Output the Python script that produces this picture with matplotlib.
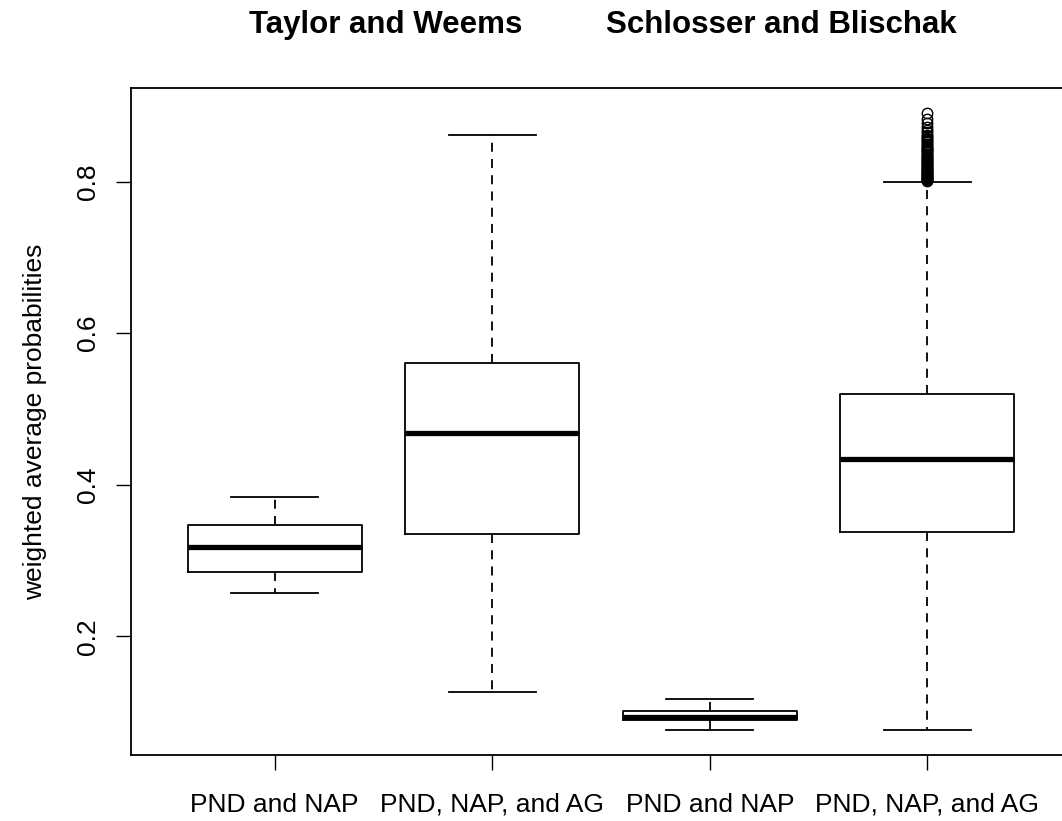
import matplotlib
matplotlib.use("Agg")
import matplotlib.pyplot as plt

plt.rcParams['font.family'] = ['Liberation Sans', 'DejaVu Sans']

labels = ["PND and NAP", "PND, NAP, and AG", "PND and NAP", "PND, NAP, and AG"]
whislo = [0.257, 0.127, 0.076, 0.076]
q1 = [0.285, 0.335, 0.089, 0.337]
med = [0.318, 0.468, 0.094, 0.434]
q3 = [0.347, 0.560, 0.101, 0.520]
whishi = [0.384, 0.862, 0.117, 0.800]
outliers4 = [0.891, 0.883, 0.877, 0.872, 0.868, 0.865, 0.862, 0.860, 0.858,
             0.856, 0.854, 0.852, 0.850, 0.848, 0.846, 0.845, 0.843, 0.842,
             0.840, 0.839, 0.837, 0.836, 0.834, 0.833, 0.831, 0.830, 0.829,
             0.827, 0.826, 0.825, 0.823, 0.822, 0.821, 0.819, 0.818, 0.817,
             0.816, 0.815, 0.813, 0.812, 0.811, 0.810, 0.809, 0.808, 0.807,
             0.806, 0.805, 0.804, 0.803, 0.802, 0.801]
fliers = [[], [], [], outliers4]
group_titles = ["Taylor and Weems", "Schlosser and Blischak"]
ylabel = "weighted average probabilities"
yticks = [0.2, 0.4, 0.6, 0.8]

W, H = 1062, 821
fig = plt.figure(figsize=(W / 100, H / 100), dpi=100)
ax = fig.add_axes([131 / W, 66 / H, 940 / W, 667 / H])

stats = []
for i in range(4):
    stats.append(dict(whislo=whislo[i], q1=q1[i], med=med[i], q3=q3[i],
                      whishi=whishi[i], fliers=fliers[i], label=labels[i]))

lw = 1.3
ax.bxp(stats, positions=[1, 2, 3, 4], widths=0.8, showfliers=True,
       boxprops=dict(color='black', linewidth=lw),
       whiskerprops=dict(color='black', linewidth=lw, linestyle=(0, (5, 4))),
       capprops=dict(color='black', linewidth=lw),
       medianprops=dict(color='black', linewidth=3.8, solid_capstyle='butt'),
       flierprops=dict(marker='o', markerfacecolor='none', markeredgecolor='black',
                       markersize=7.5, markeredgewidth=1.0),
       capwidths=0.4)

fs = 19
ax.set_xlim(0.34, 4.66)
ax.set_ylim(0.0432, 0.9236)
ax.set_yticks(yticks)
ax.set_yticklabels([f"{v:.1f}" for v in yticks], rotation=90, va='center', fontsize=fs)
ax.set_xticks([1, 2, 3, 4])
ax.set_xticklabels(labels, fontsize=fs)
ax.tick_params(axis='both', length=11, width=1.0, color='black')
ax.tick_params(axis='x', pad=16)
ax.tick_params(axis='y', pad=11)
for s in ax.spines.values():
    s.set_linewidth(1.3)
ax.set_ylabel(ylabel, fontsize=fs, labelpad=21)

fig.text(386 / W, 1 - 25 / H, group_titles[0], ha='center', va='center',
         fontsize=22.5, fontweight='bold')
fig.text(781 / W, 1 - 25 / H, group_titles[1], ha='center', va='center',
         fontsize=22.5, fontweight='bold')

fig.savefig("out.png", dpi=100, facecolor='white')
